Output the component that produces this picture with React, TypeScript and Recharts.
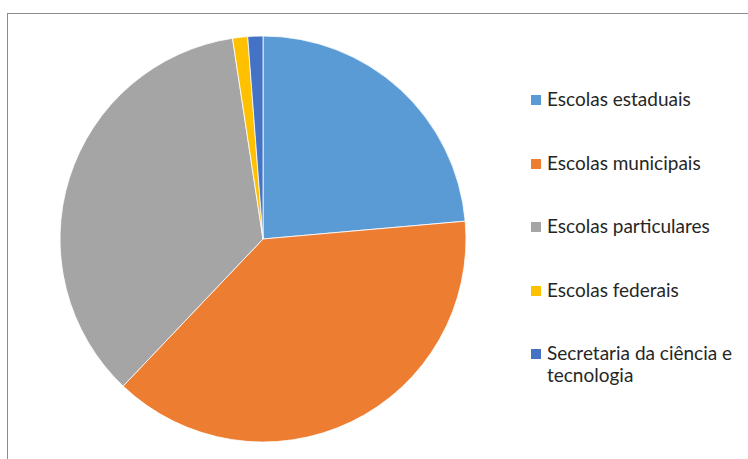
import React from "react";
import { PieChart, Pie, Cell, Legend } from "recharts";

const categories = [
  "Escolas estaduais",
  "Escolas municipais",
  "Escolas particulares",
  "Escolas federais",
  "Secretaria da ciência e tecnologia",
];
const values = [23.6, 38.5, 35.5, 1.2, 1.2];
const colors = ["#5B9BD5", "#ED7D31", "#A5A5A5", "#FFC000", "#4472C4"];

const data = categories.map((name, i) => ({ name, value: values[i] }));

const legendLines: string[][] = [
  ["Escolas estaduais"],
  ["Escolas municipais"],
  ["Escolas particulares"],
  ["Escolas federais"],
  ["Secretaria da ciência e", "tecnologia"],
];

const renderLegend = () => (
  <div style={{ fontFamily: "Lato, 'Open Sans', sans-serif", fontSize: 19, color: "#262626" }}>
    {categories.map((c, i) => (
      <div
        key={c}
        style={{ display: "flex", alignItems: "flex-start", height: 63.5 }}
      >
        <div
          style={{
            width: 10,
            height: 10,
            background: colors[i],
            marginTop: 7,
            marginRight: 6,
            flexShrink: 0,
          }}
        />
        <div style={{ lineHeight: "22px", whiteSpace: "nowrap" }}>
          {legendLines[i].map((l) => (
            <div key={l}>{l}</div>
          ))}
        </div>
      </div>
    ))}
  </div>
);

export default function App() {
  return (
    <div
      style={{
        position: "absolute",
        left: 0,
        top: 0,
        width: 748,
        height: 459,
        background: "#fff",
        overflow: "hidden",
      }}
    >
      <div
        style={{
          position: "absolute",
          left: 7,
          top: 13,
          width: 760,
          height: 460,
          borderLeft: "1px solid #8c8c8c",
          borderTop: "1px solid #8c8c8c",
        }}
      />
      <div style={{ position: "absolute", left: 0, top: 0 }}>
        <PieChart width={748} height={459} margin={{ top: 0, right: 0, bottom: 0, left: 0 }}>
          <Pie
            data={data}
            dataKey="value"
            nameKey="name"
            cx={263}
            cy={239}
            outerRadius={203}
            startAngle={90}
            endAngle={-270}
            stroke="#ffffff"
            strokeWidth={0.8}
            isAnimationActive={false}
          >
            {data.map((d, i) => (
              <Cell key={d.name} fill={colors[i]} />
            ))}
          </Pie>
          <Legend
            content={renderLegend}
            layout="vertical"
            verticalAlign="top"
            align="right"
            wrapperStyle={{ position: "absolute", left: 531, top: 88, width: 215 }}
          />
        </PieChart>
      </div>
    </div>
  );
}
